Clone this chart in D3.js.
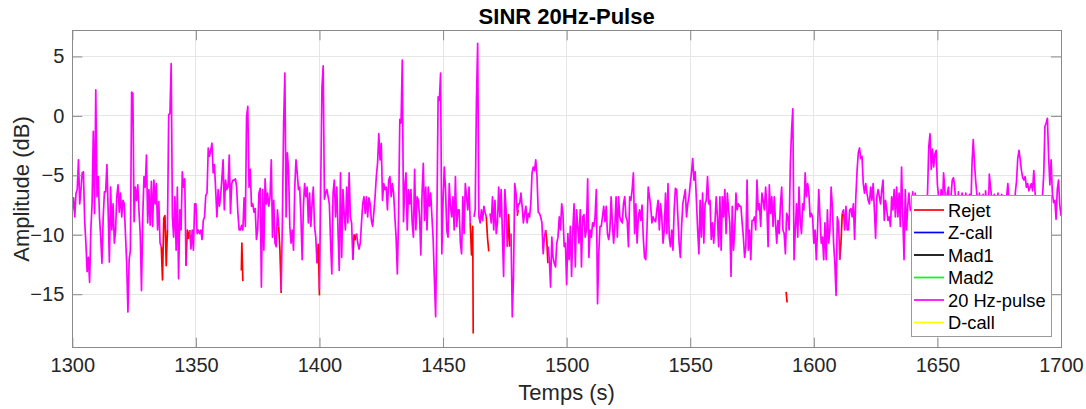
<!DOCTYPE html>
<html>
<head>
<meta charset="utf-8">
<script src="https://cdn.jsdelivr.net/npm/d3@7"></script>
<style>
  body { margin: 0; background: #fff; }
  svg { display: block; font-family: "Liberation Sans", Arial, Helvetica, sans-serif; }
</style>
</head>
<body>
<svg id="chart" width="1086" height="409"></svg>
<script>
// SINR of the 20 Hz-pulse detector, one sample every 0.5 s from 1300 s
const tStart = 1300;
const tStep = 0.5;
const pulse = [
  -7.9, -6.9, -8.5, -6.5, -6.2, -3.7, -7.4, -6.2, -4.8, -4.7,
  -8.8, -10.7, -13.1, -11.9, -14.0, -9.6, -7.4, -1.3, -8.2, 2.2,
  -6.8, -5.1, -8.5, -10.2, -12.4, -8.5, -6.4, -6.4, -4.1, -7.9,
  -12.3, -6.0, -9.6, -7.4, -10.7, -9.7, -6.8, -5.8, -8.1, -6.5,
  -8.5, -7.1, -7.4, -9.9, -12.4, -16.5, -12.1, -11.3, 2.0, 1.9,
  -8.9, -6.0, -7.1, -5.8, -8.1, -10.0, -14.7, -8.5, -5.1, -6.0,
  -3.3, -9.0, -6.2, -9.2, -5.5, -9.3, -5.4, -7.4, -5.7, -9.6,
  -7.2, -10.7, -11.0, null, null, null, null, -9.6, 0.1, 0.2,
  4.4, -8.5, -10.2, -6.8, -11.3, -6.0, -13.7, -7.9, -9.6, -4.7,
  -6.0, -5.3, -12.6, null, null, -9.6, -11.2, -9.6, -11.3, -7.4,
  -7.4, -9.9, -9.6, -9.9, -9.6, -10.4, -8.8, -8.5, -6.7, -6.5,
  -2.7, -3.4, -2.9, -2.3, -4.8, -4.1, -6.2, -8.5, -6.2, -7.6,
  -6.8, -5.3, -3.7, -7.9, -5.4, -6.2, -6.0, -3.3, -8.2, -5.7,
  -5.4, -5.4, -5.3, -6.0, -8.2, -9.6, -9.6, -9.2, -9.6, -6.9,
  -9.3, -0.1, 0.8, -6.0, -4.5, -7.6, -7.4, -8.1, -7.8, -10.4,
  -9.6, -6.5, -6.1, -14.4, -6.2, -11.3, -5.3, -7.4, -6.5, -7.6,
  -6.8, -3.7, -10.2, -7.1, -10.7, -11.0, -7.9, -9.3, null, -14.7,
  -8.8, -0.6, 3.6, -8.5, -3.1, -4.6, -9.3, -10.7, -9.6, -11.3,
  -6.0, -3.7, -4.8, -6.2, -6.0, -8.5, -12.1, -7.6, -5.7, -6.8,
  -6.0, -9.0, -6.5, -9.3, -7.4, -6.0, -9.3, -10.2, -12.4, null,
  -14.6, -6.0, 2.4, 4.2, -7.0, -6.5, -6.2, -6.8, -7.4, -10.7,
  -13.3, -6.5, -5.4, -8.5, -6.0, -9.6, -13.0, -4.8, -11.9, -6.2,
  -8.2, -9.6, -6.0, -9.0, -4.8, -8.5, -9.0, -12.1, null, null,
  -9.9, -10.7, -11.2, -10.7, -9.0, -7.4, -6.8, -8.2, -6.8, -8.5,
  -6.9, -7.4, -8.8, -9.3, -8.1, -6.8, -5.1, -4.0, -1.5, -3.7,
  -2.3, -7.1, -5.7, -6.2, -6.0, -7.9, -5.4, -5.1, -6.8, -5.7,
  -6.5, -8.5, -10.2, -13.3, -8.5, -0.3, -0.6, 4.7, -8.9, -5.9,
  -4.8, -9.6, -6.2, -7.4, -6.2, -9.0, -10.2, -4.5, -9.6, -6.8,
  -7.1, -8.5, -11.7, -6.5, -4.0, -8.8, -6.0, -9.6, -6.0, -7.6,
  -6.5, -8.5, -10.4, -13.8, -16.9, -9.0, 1.6, 1.3, 3.6, -11.6,
  -7.1, -4.3, -6.2, -9.6, -10.2, -5.7, -7.6, -8.5, -6.8, -9.6,
  -5.1, -9.3, -7.9, -7.9, -10.7, -11.6, -6.8, -9.9, -5.7, -6.8,
  -7.9, -6.0, -9.0, null, null, -8.5, -7.9, 1.2, 6.1, -8.5,
  -9.0, -7.9, -8.8, -7.6, -8.1, -8.5, null, null, -8.2, -9.0,
  -6.8, -9.6, -7.1, -9.9, -9.0, -6.0, -8.5, -6.2, -9.9, -13.5,
  -6.2, -7.9, -11.0, null, null, -9.9, -16.9, -13.5, -5.7, -6.5,
  -8.1, -7.4, -7.4, -6.5, -7.6, -9.0, -8.2, -7.6, -9.0, -8.2,
  -8.5, -7.4, -4.8, -4.3, -4.6, -3.7, -5.1, -8.1, -8.2, -8.5,
  -9.0, -11.6, -10.2, -9.6, null, -11.0, -12.1, -14.4, -10.2, -11.9,
  -12.4, -12.7, -10.7, -10.2, -8.5, -9.6, -7.4, -8.2, -11.0, -10.7,
  -14.2, -9.9, -12.1, -9.3, -13.5, -9.6, -7.4, -12.7, -7.9, -9.3,
  -10.7, -7.9, -12.7, -8.5, -8.3, -10.2, -9.6, -5.3, -11.9, -9.6,
  -10.2, -9.0, -9.3, -8.5, -6.2, -15.8, -11.6, -9.3, -9.3, -8.5,
  -7.6, -8.9, -7.6, -9.9, -10.4, -9.6, -6.8, -9.0, -10.7, -9.3,
  -6.8, -10.2, -6.8, -8.5, -8.8, -9.0, -7.4, -6.8, -8.5, -8.8,
  -11.0, -6.8, -7.1, -6.2, -4.8, -9.9, -7.4, -10.7, -8.5, -7.9,
  -8.8, -7.5, -10.2, -11.9, -12.1, -9.6, -6.0, -6.8, -7.6, -9.0,
  -8.5, -8.8, -8.9, -7.9, -7.1, -9.6, -7.4, -8.5, -10.7, -9.6,
  -6.5, -9.9, -5.7, -10.2, -11.0, -9.6, -11.3, -7.9, -6.1, -6.2,
  -8.5, -10.7, -11.9, -9.3, -7.4, -6.8, -6.2, -8.5, -7.4, -6.8,
  -5.7, -4.8, -3.6, -5.4, -4.7, -7.1, -9.6, -11.6, -7.1, -10.2,
  -6.5, -10.7, -7.4, -7.1, -5.1, -7.4, -7.1, -10.4, -9.0, -10.7,
  -9.0, -6.8, -8.5, -11.0, -6.8, -11.3, -6.8, -8.5, -6.2, -9.9,
  -6.5, -7.9, -9.0, -13.5, -7.6, -11.3, -9.6, -6.5, -7.9, -7.4,
  -7.6, -7.6, -9.0, -10.2, -11.9, -11.0, -5.4, -11.3, -9.6, -12.1,
  -8.8, -8.8, -8.5, -9.6, -5.4, -7.9, -7.4, -9.3, -6.5, -7.1,
  -7.9, -6.0, -7.6, -11.0, -5.8, -8.2, -6.8, -9.3, -6.8, -9.0,
  -10.7, -8.8, -9.9, -7.4, -6.0, -9.6, -9.9, -11.6, -8.2, -8.5,
  -9.6, -4.0, -1.2, 0.6, -12.1, -9.6, -7.4, -10.2, -6.0, -8.8,
  -9.9, -7.4, -7.9, -4.8, -6.8, -5.7, -6.5, -8.5, -8.2, -8.5,
  -10.7, -9.6, -12.1, -9.6, -6.2, -8.5, -10.7, -10.2, -12.1, -9.0,
  -12.1, -7.9, -10.7, -9.6, -6.0, -7.6, -10.7, -12.4, -15.1, -8.5,
  -9.0, -12.1, null, -8.2, -7.9, -9.6, -7.6, -9.6, -9.6, -7.9,
  -7.8, -8.5, -7.4, -10.4, -6.8, -4.6, -3.1, -2.7, -3.6, -3.4,
  -5.7, -6.5, -5.7, -6.5, -7.1, -7.4, -6.0, -7.1, -5.7, -7.9,
  -10.3, -6.8, -6.2, -6.8, -7.4, -6.2, -5.4, -8.8, -7.1, -7.9,
  -8.8, -8.5, -9.3, -6.8, -7.9, -6.2, -8.5, -6.0, -8.5, -6.5,
  -9.3, -4.3, -8.5, -12.1, -6.2, -9.6, -7.6, -6.5, -7.9, -8.0,
  -6.4, -8.5, -6.5, -9.0, -7.5, -8.8, -6.9, -9.5, -7.2, -8.5,
  -7.0, -9.0, -6.5, -2.6, -1.5, -4.5, -2.8, -4.3, -3.2, -2.9,
  -5.8, -6.8, -8.5, -6.2, -7.8, -4.8, -6.2, -8.0, -6.5, -6.0,
  -8.8, -6.8, -5.4, -5.2, -6.0, -7.5, -9.0, -6.4, -8.2, -7.0,
  -6.5, -8.8, -7.5, -6.5, -9.2, -7.0, -6.6, -8.0, -4.0, -2.0,
  -4.0, -5.5, -6.7, -8.5, -6.5, -9.0, -7.2, -6.6, -8.4, -6.3,
  -7.8, -9.4, -4.9, -6.0, -7.0, -8.8, -6.6, -7.7, -9.1, -6.5,
  -8.0, -7.1, -6.6, -8.9, -7.4, -9.6, -6.8, -5.7, -7.3, -8.6,
  -6.7, -7.9, -9.2, -6.5, -5.5, -3.6, -2.9, -3.7, -4.6, -5.2,
  -5.4, -5.1, -6.0, -5.7, -6.3, -6.0, -5.7, -6.3, -4.6, -6.4,
  -8.0, -7.0, -9.0, -7.5, -8.2, -6.8, -5.0, -0.9, -0.6, -0.2,
  -3.5, -5.8, -3.7, -6.5, -7.3, -7.1, -8.7, -6.2, -5.4, -7.5,
  -8.4
];

// Rejected segments (null separates segments)
const rejetTimes = [
  1336.0, 1336.5, 1337.0, 1337.5, 1338.0, 1338.5, null,
  1346.0, 1346.5, 1347.0, 1347.5, null,
  1368.4, 1368.6, 1369.0, null,
  1383.5, 1384.0, 1384.5, null,
  1399.0, 1399.5, 1400.0, null,
  1413.5, 1414.0, 1414.5, 1415.0, null,
  1461.0, 1461.5, 1462.0, 1462.2, null,
  1467.5, 1468.0, 1468.5, null,
  1476.0, 1476.5, 1477.0, null,
  1480.0, 1480.4, null,
  1491.5, 1492.0, 1492.4, null,
  1588.8, 1589.2, null,
  1610.5, 1611.0, 1611.5
];
const rejetValues = [
  -11.0, -13.8, -8.6, -8.4, -12.6, -9.6, null,
  -12.6, -9.6, -10.3, -9.6, null,
  -13.0, -10.7, -13.9, null,
  -9.3, -11.3, -14.9, null,
  -12.4, -10.8, -15.1, null,
  -12.1, -10.0, -10.4, -9.9, null,
  -9.0, -11.7, -9.3, -18.3, null,
  -8.5, -10.3, -11.4, null,
  -11.0, -8.3, -11.0, null,
  -8.4, -7.9, null,
  -9.6, -10.6, -12.4, null,
  -14.8, -15.7, null,
  -12.1, -10.6, -8.2
];

const seriesNames = ["Rejet", "Z-call", "Mad1", "Mad2", "20 Hz-pulse", "D-call"];
const xTicks = [1300, 1350, 1400, 1450, 1500, 1550, 1600, 1650, 1700];
const yTicks = [-15, -10, -5, 0, 5];
const xDomain = [1300, 1700];
const yDomain = [-19.5, 7.2];

// ---- drawing ----
const seriesColor = {
  "Rejet": "#ff0000", "Z-call": "#0000ff", "Mad1": "#000000",
  "Mad2": "#00ff00", "20 Hz-pulse": "#ff00ff", "D-call": "#ffff00"
};
const textColor = "#262626";
const axisColor = "#8a8a8a";
const gridColor = "#e6e6e6";
const fontStack = "'Liberation Sans', Arial, Helvetica, sans-serif";

const plot = { left: 72.3, right: 1061, top: 30.3, bottom: 347.7 };
const svg = d3.select("#chart");

const x = d3.scaleLinear().domain(xDomain).range([plot.left, plot.right]);
const y = d3.scaleLinear().domain(yDomain).range([plot.bottom, plot.top]);

svg.append("defs").append("clipPath").attr("id", "plot-clip")
  .append("rect")
  .attr("x", plot.left).attr("y", plot.top)
  .attr("width", plot.right - plot.left).attr("height", plot.bottom - plot.top);

// grid
const grid = svg.append("g").attr("shape-rendering", "crispEdges");
grid.selectAll("line.gx").data(xTicks).join("line")
  .attr("x1", d => x(d)).attr("x2", d => x(d))
  .attr("y1", plot.top).attr("y2", plot.bottom)
  .attr("stroke", gridColor).attr("stroke-width", 1);
grid.selectAll("line.gy").data(yTicks).join("line")
  .attr("x1", plot.left).attr("x2", plot.right)
  .attr("y1", d => y(d)).attr("y2", d => y(d))
  .attr("stroke", gridColor).attr("stroke-width", 1);

// series
const pulsePoints = pulse.map((v, i) => ({ t: tStart + i * tStep, v }));
const rejetPoints = rejetTimes.map((t, i) => ({ t, v: rejetValues[i] }));
const line = d3.line()
  .defined(d => d.t !== null && d.v !== null)
  .x(d => x(d.t)).y(d => y(d.v));

const lines = svg.append("g").attr("clip-path", "url(#plot-clip)");
lines.append("path").datum(rejetPoints)
  .attr("d", line).attr("fill", "none")
  .attr("stroke", seriesColor["Rejet"]).attr("stroke-width", 1.7)
  .attr("stroke-linejoin", "round");
lines.append("path").datum(pulsePoints)
  .attr("d", line).attr("fill", "none")
  .attr("stroke", seriesColor["20 Hz-pulse"]).attr("stroke-width", 1.7)
  .attr("stroke-linejoin", "round");

// axes (ticks pointing inward on all four sides)
const tickLen = 10;
function styleAxis(g) {
  g.select(".domain").remove();
  g.selectAll(".tick line").attr("stroke", axisColor);
  g.selectAll(".tick text").attr("fill", textColor)
    .style("font-size", "20px")
    .style("font-family", fontStack);
}
svg.append("g").attr("transform", `translate(0,${plot.bottom})`)
  .call(d3.axisBottom(x).tickValues(xTicks).tickFormat(d3.format("d"))
    .tickSizeInner(-tickLen).tickSizeOuter(0).tickPadding(10))
  .call(styleAxis);
svg.append("g").attr("transform", `translate(0,${plot.top})`)
  .call(d3.axisTop(x).tickValues(xTicks).tickFormat("")
    .tickSizeInner(-tickLen).tickSizeOuter(0))
  .call(styleAxis);
svg.append("g").attr("transform", `translate(${plot.left},0)`)
  .call(d3.axisLeft(y).tickValues(yTicks).tickFormat(d3.format("d"))
    .tickSizeInner(-tickLen).tickSizeOuter(0).tickPadding(8))
  .call(styleAxis);
svg.append("g").attr("transform", `translate(${plot.right},0)`)
  .call(d3.axisRight(y).tickValues(yTicks).tickFormat("")
    .tickSizeInner(-tickLen).tickSizeOuter(0))
  .call(styleAxis);

// use a true minus sign on negative labels
svg.selectAll(".tick text").text(function () {
  return d3.select(this).text().replace("-", "\u2212");
});

svg.append("rect")
  .attr("x", plot.left).attr("y", plot.top)
  .attr("width", plot.right - plot.left).attr("height", plot.bottom - plot.top)
  .attr("fill", "none").attr("stroke", axisColor).attr("stroke-width", 1)
  .attr("shape-rendering", "crispEdges");

// titles
svg.append("text")
  .attr("x", (plot.left + plot.right) / 2).attr("y", 24)
  .attr("text-anchor", "middle").attr("fill", "#000")
  .style("font-size", "22px").style("font-weight", "bold")
  .text("SINR 20Hz-Pulse");
svg.append("text")
  .attr("x", (plot.left + plot.right) / 2).attr("y", 400)
  .attr("text-anchor", "middle").attr("fill", textColor)
  .style("font-size", "22px")
  .text("Temps (s)");
svg.append("text")
  .attr("transform", `translate(29,${(plot.top + plot.bottom) / 2}) rotate(-90)`)
  .attr("text-anchor", "middle").attr("fill", textColor)
  .style("font-size", "22px")
  .text("Amplitude (dB)");

// legend
const legend = { x: 911, y: 195, w: 140, h: 141, row: 22.5, first: 210 };
const lg = svg.append("g");
lg.append("rect")
  .attr("x", legend.x).attr("y", legend.y)
  .attr("width", legend.w).attr("height", legend.h)
  .attr("fill", "#fff").attr("stroke", "#9a9a9a").attr("stroke-width", 1)
  .attr("shape-rendering", "crispEdges");
const rows = lg.selectAll("g.row").data(seriesNames).join("g")
  .attr("transform", (d, i) => `translate(0,${legend.first + i * legend.row})`);
rows.append("line")
  .attr("x1", 914).attr("x2", 944).attr("y1", 0).attr("y2", 0)
  .attr("stroke", d => seriesColor[d]).attr("stroke-width", 1.7);
rows.append("text")
  .attr("x", 948).attr("y", 0).attr("dy", "0.36em")
  .attr("fill", "#000").style("font-size", "18.3px")
  .text(d => d);
</script>
</body>
</html>
